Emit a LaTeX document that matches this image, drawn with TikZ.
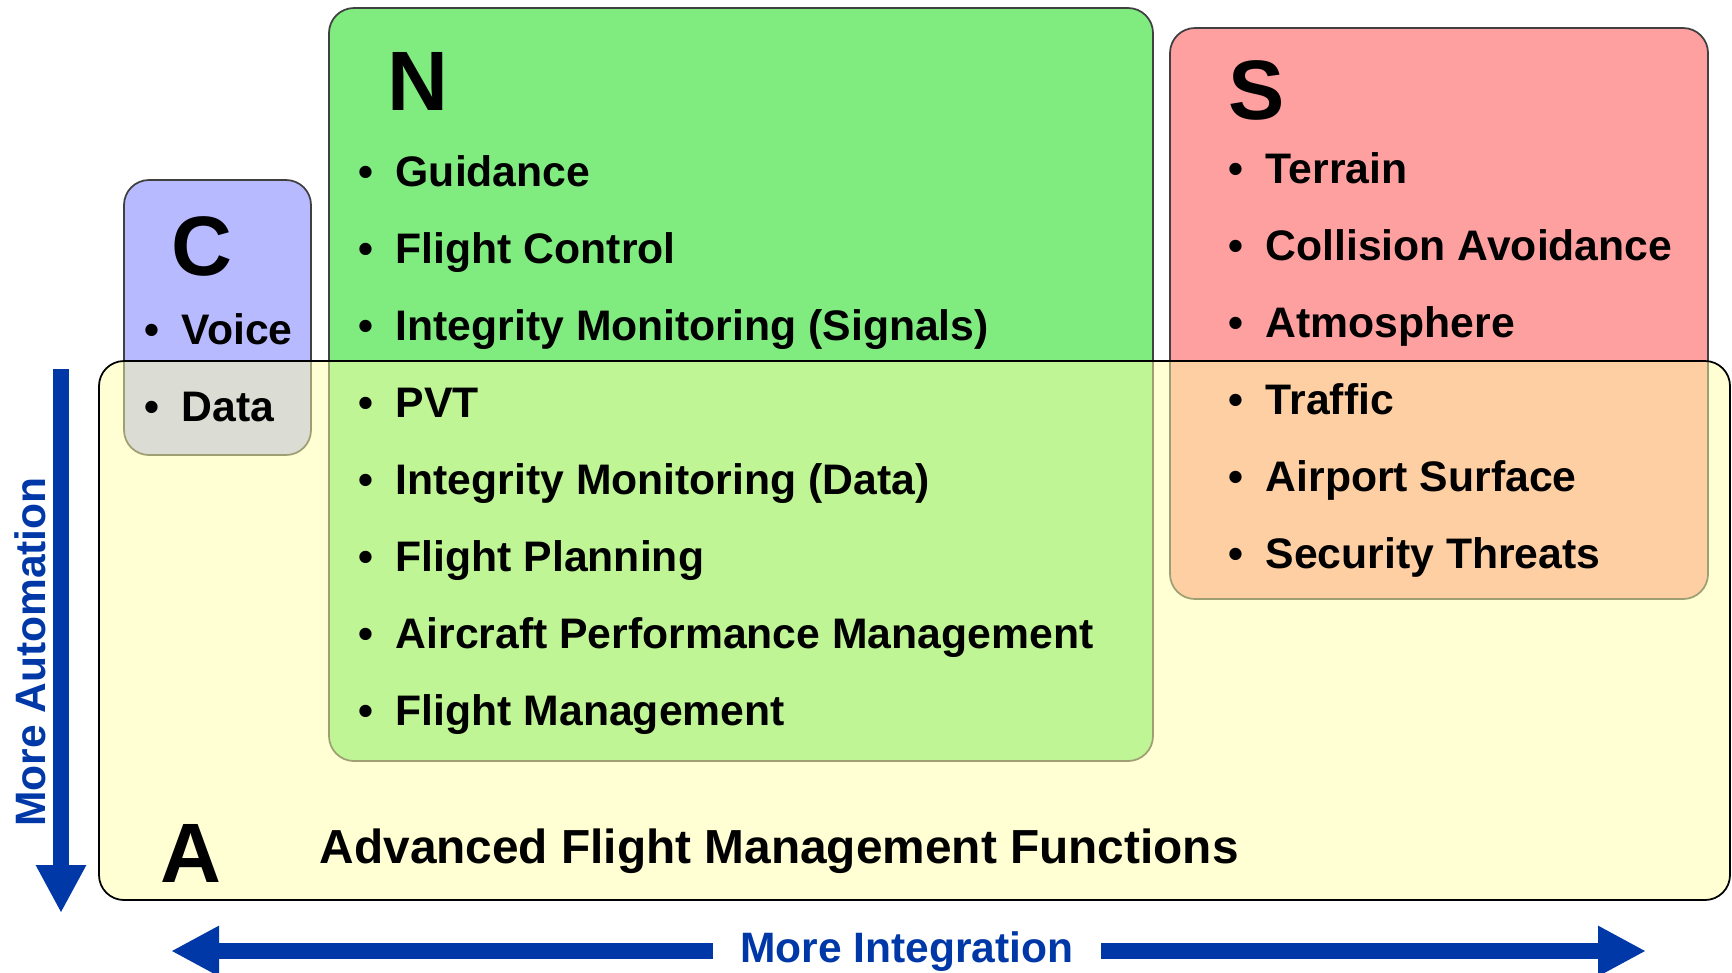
\documentclass[tikz,border=0pt]{standalone}
\usepackage{fontspec}
\setmainfont{Liberation Sans}
\usetikzlibrary{arrows.meta}
\definecolor{cfill}{RGB}{184,186,255}
\definecolor{nfill}{RGB}{128,236,128}
\definecolor{sfill}{RGB}{255,160,160}
\definecolor{afill}{RGB}{255,255,168}
\definecolor{arrowblue}{RGB}{0,56,168}
\newcommand{\bul}{\makebox[0.37cm][l]{\textbullet}}
\tikzset{
  box/.style={rounded corners=0.25cm, draw=black!75, line width=0.5pt},
  bigletter/.style={font=\fontsize{24}{28}\selectfont\bfseries, anchor=base west, inner sep=0pt},
  item/.style={font=\fontsize{12.15}{14}\selectfont\bfseries, anchor=base west, inner sep=0pt},
  bluetext/.style={font=\fontsize{12.1}{14}\selectfont\bfseries, text=arrowblue},
  arrowline/.style={draw=arrowblue, line width=0.16cm},
  bigtip/.tip={Triangle[width=0.47cm, length=0.48cm]}
}
\begin{document}
\begin{tikzpicture}
\useasboundingbox (0,0) rectangle (17.32,-9.72);
\pgfmathsetmacro{\gap}{0.77}
\draw[box, fill=cfill] (1.24,-1.80) rectangle (3.11,-4.55);
\draw[box, fill=nfill] (3.29,-0.08) rectangle (11.53,-7.61);
\draw[box, fill=sfill] (11.70,-0.28) rectangle (17.08,-5.99);
\draw[rounded corners=0.25cm, draw=black, line width=0.5pt, fill=afill, fill opacity=0.5] (0.99,-3.61) rectangle (17.30,-9.00);
\node[bigletter] (cletter) at (1.71,-2.75) {C};
\node[bigletter] (nletter) at (3.87,-1.10) {N};
\node[bigletter] (sletter) at (12.28,-1.19) {S};
\node[bigletter] (aletter) at (1.60,-8.82) {A};
\foreach \t [count=\i from 0] in {Voice, Data}
  \node[item] (c\i) at (1.44, {-3.44-\gap*\i}) {\bul\t};
\foreach \t [count=\i from 0] in {Guidance, Flight Control, {Integrity Monitoring (Signals)}, PVT, {Integrity Monitoring (Data)}, Flight Planning, Aircraft Performance Management, Flight Management}
  \node[item] (n\i) at (3.58, {-1.86-\gap*\i}) {\bul\t};
\foreach \t [count=\i from 0] in {Terrain, Collision Avoidance, Atmosphere, Traffic, Airport Surface, Security Threats}
  \node[item] (s\i) at (12.28, {-1.83-\gap*\i}) {\bul\t};
\node[item, font=\fontsize{13.6}{16}\selectfont\bfseries] (afunc) at (3.19,-8.63) {Advanced Flight Management Functions};
\coordinate (vtop) at (0.61,-3.69);
\coordinate (vbot) at (0.61,-9.13);
\coordinate (hleft) at (1.71,-9.51);
\coordinate (hright) at (16.46,-9.51);
\draw[arrowline, -bigtip] (vtop) -- (vbot);
\draw[arrowline, bigtip-bigtip] (hleft) -- (hright);
\node[bluetext, rotate=90] (auto) at (0.30,-6.52) {More Automation};
\node[bluetext, fill=white, anchor=base, inner xsep=0.27cm, inner ysep=3pt] (integ) at (9.07,-9.62) {More Integration};
\end{tikzpicture}
\end{document}
